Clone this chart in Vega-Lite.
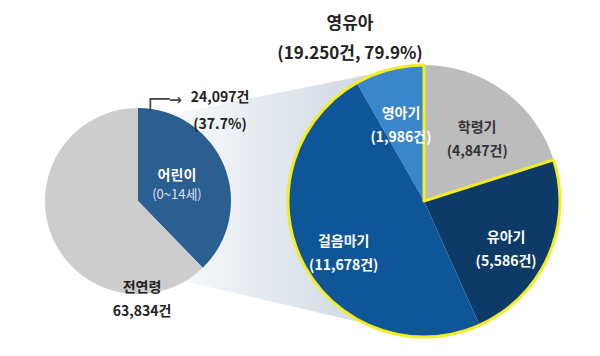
{
  "$schema": "https://vega.github.io/schema/vega-lite/v6.json",
  "width": 600,
  "height": 310,
  "autosize": {"type": "none"},
  "padding": {"top": 46, "left": 0, "right": 0, "bottom": 0},
  "background": "white",
  "config": {"view": {"stroke": null}, "font": "Noto Sans CJK KR", "text": {"font": "Noto Sans CJK KR"}},
  "datasets": {
    "all": [
      {"group": "전연령", "name": "어린이", "count": 24097, "ord": 1, "line1": "어린이", "line2": "(0~14세)"},
      {"group": "전연령", "name": "그 외", "count": 39737, "ord": 2, "line1": "", "line2": ""}
    ],
    "infant": [
      {"group": "영유아", "name": "학령기", "grp": "기타", "count": 4847, "ord": 1, "label": "학령기\n(4,847건)"},
      {"group": "영유아", "name": "유아기", "grp": "영유아", "count": 5586, "ord": 2, "label": "유아기\n(5,586건)"},
      {"group": "영유아", "name": "걸음마기", "grp": "영유아", "count": 11678, "ord": 3, "label": "걸음마기\n(11,678건)"},
      {"group": "영유아", "name": "영아기", "grp": "영유아", "count": 1986, "ord": 4, "label": "영아기\n(1,986건)"}
    ],
    "zoom": [
      {"group": "전연령", "top": 0.588, "bottom": -0.512},
      {"group": "영유아", "top": 1.011, "bottom": -1.0}
    ]
  },
  "resolve": {"scale": {"theta": "independent", "color": "independent"}},
  "layer": [
    {
      "data": {"name": "zoom"},
      "mark": {
        "type": "area",
        "interpolate": "linear",
        "fill": {"gradient": "linear", "x1": 0, "y1": 0, "x2": 1, "y2": 0,
          "stops": [{"offset": 0, "color": "#ffffff"}, {"offset": 0.25, "color": "#f1f4f7"}, {"offset": 0.75, "color": "#d2dae4"}, {"offset": 1, "color": "#c3cedb"}]}
      },
      "encoding": {
        "x": {"field": "group", "type": "nominal", "scale": {"type": "point", "domain": ["전연령", "영유아"], "range": [138, 424], "padding": 0}, "axis": null},
        "y": {"field": "top", "type": "quantitative", "scale": {"domain": [-1.14, 1.14], "nice": false, "zero": false}, "axis": null},
        "y2": {"field": "bottom"}
      }
    },
    {
      "data": {"name": "all"},
      "mark": {"type": "arc", "outerRadius": 93},
      "encoding": {
        "x": {"field": "group", "type": "nominal", "scale": {"type": "point", "domain": ["전연령", "영유아"], "range": [138, 424], "padding": 0}, "axis": null},
        "theta": {"field": "count", "type": "quantitative", "stack": true},
        "order": {"field": "ord", "type": "ordinal"},
        "color": {"field": "name", "type": "nominal", "scale": {"domain": ["어린이", "그 외"], "range": ["#2b5e91", "#cdcdcd"]}, "legend": null}
      }
    },
    {
      "data": {"name": "infant"},
      "mark": {"type": "arc", "outerRadius": 136},
      "encoding": {
        "x": {"field": "group", "type": "nominal", "scale": {"type": "point", "domain": ["전연령", "영유아"], "range": [138, 424], "padding": 0}, "axis": null},
        "theta": {"field": "count", "type": "quantitative", "stack": true},
        "order": {"field": "ord", "type": "ordinal"},
        "color": {"field": "name", "type": "nominal", "scale": {"domain": ["학령기", "유아기", "걸음마기", "영아기"], "range": ["#bcbcbc", "#0e3a68", "#0f5699", "#3b86ca"]}, "legend": null}
      }
    },
    {
      "data": {"name": "infant"},
      "transform": [
        {"aggregate": [{"op": "sum", "field": "count", "as": "total"}, {"op": "min", "field": "ord", "as": "o"}], "groupby": ["group", "grp"]}
      ],
      "mark": {"type": "arc", "outerRadius": 136, "fill": "transparent", "strokeWidth": 3, "strokeJoin": "round"},
      "encoding": {
        "x": {"field": "group", "type": "nominal", "scale": {"type": "point", "domain": ["전연령", "영유아"], "range": [138, 424], "padding": 0}, "axis": null},
        "theta": {"field": "total", "type": "quantitative", "stack": true},
        "order": {"field": "o", "type": "ordinal"},
        "stroke": {"condition": {"test": "datum.grp === '영유아'", "value": "#f2ee22"}, "value": "transparent"}
      }
    },
    {
      "data": {"name": "infant"},
      "mark": {"type": "text", "radius": 90, "fontSize": 14, "fontWeight": "bold", "lineBreak": "\n", "lineHeight": 24},
      "encoding": {
        "x": {"field": "group", "type": "nominal", "scale": {"type": "point", "domain": ["전연령", "영유아"], "range": [138, 424], "padding": 0}, "axis": null},
        "theta": {"field": "count", "type": "quantitative", "stack": true},
        "order": {"field": "ord", "type": "ordinal"},
        "text": {"field": "label"},
        "color": {"condition": {"test": "datum.name === '학령기'", "value": "#333333"}, "value": "#ffffff"}
      }
    },
    {
      "data": {"name": "all"},
      "mark": {"type": "text", "radius": 42, "dy": -9, "fontSize": 14, "fontWeight": "bold", "color": "#ffffff"},
      "encoding": {
        "x": {"field": "group", "type": "nominal", "scale": {"type": "point", "domain": ["전연령", "영유아"], "range": [138, 424], "padding": 0}, "axis": null},
        "theta": {"field": "count", "type": "quantitative", "stack": true},
        "order": {"field": "ord", "type": "ordinal"},
        "text": {"field": "line1"}
      }
    },
    {
      "data": {"name": "all"},
      "mark": {"type": "text", "radius": 42, "dy": 10, "fontSize": 13, "fontWeight": "normal", "color": "#dde1f0"},
      "encoding": {
        "x": {"field": "group", "type": "nominal", "scale": {"type": "point", "domain": ["전연령", "영유아"], "range": [138, 424], "padding": 0}, "axis": null},
        "theta": {"field": "count", "type": "quantitative", "stack": true},
        "order": {"field": "ord", "type": "ordinal"},
        "text": {"field": "line2"}
      }
    },
    {
      "data": {"values": [{"group": "영유아", "text": "영유아\n(19.250건, 79.9%)"}]},
      "mark": {"type": "text", "dx": -74, "dy": -177, "fontSize": 17, "fontWeight": "bold", "color": "#222222", "lineBreak": "\n", "lineHeight": 30},
      "encoding": {
        "x": {"field": "group", "type": "nominal", "scale": {"type": "point", "domain": ["전연령", "영유아"], "range": [138, 424], "padding": 0}, "axis": null},
        "text": {"field": "text"}
      }
    },
    {
      "data": {"values": [{"group": "전연령", "text": "24,097건\n(37.7%)"}]},
      "mark": {"type": "text", "dx": 82, "dy": -103, "fontSize": 14, "fontWeight": "bold", "color": "#222222", "lineBreak": "\n", "lineHeight": 27},
      "encoding": {
        "x": {"field": "group", "type": "nominal", "scale": {"type": "point", "domain": ["전연령", "영유아"], "range": [138, 424], "padding": 0}, "axis": null},
        "text": {"field": "text"}
      }
    },
    {
      "data": {"values": [{"group": "전연령", "text": "전연령\n63,834건"}]},
      "mark": {"type": "text", "dx": 4, "dy": 87, "fontSize": 14, "fontWeight": "bold", "color": "#222222", "lineBreak": "\n", "lineHeight": 24},
      "encoding": {
        "x": {"field": "group", "type": "nominal", "scale": {"type": "point", "domain": ["전연령", "영유아"], "range": [138, 424], "padding": 0}, "axis": null},
        "text": {"field": "text"}
      }
    },
    {
      "data": {"values": [{"group": "전연령", "text": "┌─→"}]},
      "mark": {"type": "text", "align": "left", "baseline": "alphabetic", "dx": 6, "dy": -95, "fontSize": 21, "font": "DejaVu Sans Mono", "color": "#444444"},
      "encoding": {
        "x": {"field": "group", "type": "nominal", "scale": {"type": "point", "domain": ["전연령", "영유아"], "range": [138, 424], "padding": 0}, "axis": null},
        "text": {"field": "text"}
      }
    }
  ]
}
